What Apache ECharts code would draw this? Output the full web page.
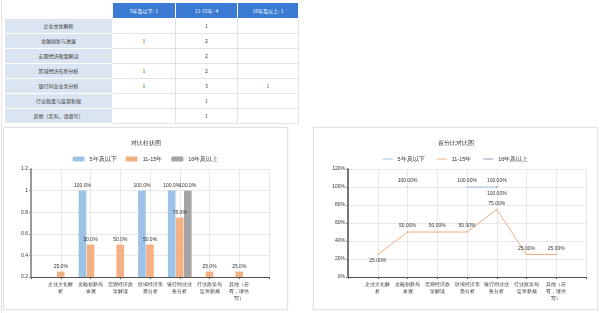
<!DOCTYPE html>
<html><head><meta charset="utf-8">
<script src="https://cdn.jsdelivr.net/npm/echarts@6/dist/echarts.min.js"></script>
<style>
html,body{margin:0;padding:0;background:#fff;width:600px;height:313px;overflow:hidden;font-family:"Noto Sans CJK SC","Microsoft YaHei",sans-serif;}
#leftline{position:absolute;left:1px;top:0;width:1px;height:313px;background:#e4e4e4;}
#tbl{position:absolute;left:4px;top:2px;border-collapse:collapse;table-layout:fixed;}
#tbl td{border:1px solid #dfe3ea;font-size:5px;text-align:center;color:#333333;padding:0;height:14px;line-height:14px;white-space:nowrap;overflow:hidden;}
#tbl tr.h td{height:15px;}
#tbl td.hd{background:#3b7bd4;color:#fff;border-color:#fff;}
#tbl td.hd0{background:#fff;border-color:#fff;}
#tbl td.rc{background:#dbe5f1;border-color:#fff;}
.panel{position:absolute;top:127px;width:283px;height:181px;border:1px solid #e2e2e2;box-shadow:0 0 2px rgba(0,0,0,0.08);}
</style></head>
<body>
<div id="leftline"></div>
<table id="tbl"></table>
<div id="bar" class="panel" style="left:3px;"></div>
<div id="line" class="panel" style="left:313px;"></div>
<script>
// ---- data ----
var categories = ['企业文化解析','金融创新与发展','宏观经济政策解读','区域经济形势分析','银行同业业务分析','行业政策与监管新规','其他（若有，请填写）'];
var chartLabels = ['企业文化解\n析','金融创新与\n发展','宏观经济政\n策解读','区域经济形\n势分析','银行同业业\n务分析','行业政策与\n监管新规','其他（若\n有，请填\n写）'];
var groups = ['5年及以下','11-15年','16年及以上'];
var groupCounts = [1, 4, 1];
var countsLow = [null, 1, null, 1, 1, null, null];
var countsMid = [1, 2, 2, 2, 3, 1, 1];
var countsHigh = [null, null, null, null, 1, null, null];
var pctLow = [null, 1, null, 1, 1, null, null];
var pctMid = [0.25, 0.5, 0.5, 0.5, 0.75, 0.25, 0.25];
var pctHigh = [null, null, null, null, 1, null, null];
var barTicks = [0.2, 0.4, 0.6, 0.8, 1, 1.2];
var lineTicks = [0, 0.2, 0.4, 0.6, 0.8, 1, 1.2];

// ---- table ----
(function(){
  var t = document.getElementById('tbl');
  var widths = [108, 63, 62, 61];
  var html = '<colgroup>' + widths.map(function(w){return '<col style="width:'+w+'px">';}).join('') + '</colgroup>';
  html += '<tr class="h"><td class="hd0"></td>' + groups.map(function(g,i){return '<td class="hd">'+g+'- '+groupCounts[i]+'</td>';}).join('') + '</tr>';
  var cols = [countsLow, countsMid, countsHigh];
  categories.forEach(function(c, r){
    html += '<tr><td class="rc">'+c+'</td>' + cols.map(function(a){return '<td>'+(a[r]==null?'':a[r])+'</td>';}).join('') + '</tr>';
  });
  t.innerHTML = html;
})();

function pad(a){ return [null].concat(a).concat([null]); }
var padCats = [''].concat(chartLabels).concat(['']);
var FS = 5.5;
var AFS = 5;
var txt = '#333';

// ---- bar chart ----
var barColors = ['#9dc3e6', '#f4b183', '#a5a5a5'];
var bar = echarts.init(document.getElementById('bar'));
function barLabel(){ return {show:true, position:'top', fontSize:AFS, color:txt, distance:2, formatter:function(p){return p.value==null?'':(p.value*100).toFixed(1)+'%';}}; }
bar.setOption({
  animation:false,
  title:{text:'对比柱状图', left:'center', top:7, textStyle:{fontSize:FS, fontWeight:'normal', color:txt}},
  legend:{top:23, left:'center', itemWidth:12, itemHeight:5, itemGap:9, textStyle:{fontSize:FS, color:txt}, data:groups},
  grid:{left:27, right:18, top:41, bottom:32},
  xAxis:{type:'category', data:padCats, boundaryGap:false,
    axisLine:{lineStyle:{color:'#555', width:1}}, axisTick:{show:true, length:2, lineStyle:{color:'#555'}},
    axisLabel:{fontSize:AFS, color:txt, interval:0, lineHeight:7, margin:4},
    splitLine:{show:true, lineStyle:{color:'#e9e9e9'}}},
  yAxis:{type:'value', min:barTicks[0], max:barTicks[barTicks.length-1], interval:0.2,
    axisLine:{show:true, lineStyle:{color:'#999', width:2}}, axisTick:{show:true, length:2, lineStyle:{color:'#999'}},
    axisLabel:{fontSize:AFS, color:txt, margin:3},
    splitLine:{show:true, lineStyle:{color:'#e9e9e9'}}},
  series:[
    {name:groups[0], type:'bar', data:pad(pctLow), barWidth:7.6, barGap:'6%', itemStyle:{color:barColors[0]}, label:barLabel()},
    {name:groups[1], type:'bar', data:pad(pctMid), barWidth:7.6, barGap:'6%', itemStyle:{color:barColors[1]}, label:barLabel()},
    {name:groups[2], type:'bar', data:pad(pctHigh), barWidth:7.6, barGap:'6%', itemStyle:{color:barColors[2]}, label:barLabel()}
  ]
});

// ---- line chart ----
var lineColors = ['#9cc1e4', '#eaaf86', '#8a9bb3'];
var line = echarts.init(document.getElementById('line'));
function fmt2(p){ return p.value==null?'':(p.value*100).toFixed(2)+'%'; }
function withPos(arr, posArr){ return pad(arr).map(function(v,i){ return v==null?null:{value:v, label:{position:posArr[i]||'top'}}; }); }
var midPos = [null,'bottom','top','top','top','top','top','top',null];
line.setOption({
  animation:false,
  title:{text:'百分比对比图', left:'center', top:7, textStyle:{fontSize:FS, fontWeight:'normal', color:txt}},
  legend:{top:23, left:'center', itemWidth:10, itemHeight:5, itemGap:12, textStyle:{fontSize:FS, color:txt}, data:groups.map(function(g){return {name:g, icon:'path://M0,2 L10,2 L10,3 L0,3 Z'};})},
  grid:{left:34, right:11, top:41, bottom:32},
  xAxis:{type:'category', data:padCats, boundaryGap:false,
    axisLine:{lineStyle:{color:'#555', width:1}}, axisTick:{show:true, length:2, lineStyle:{color:'#555'}},
    axisLabel:{fontSize:AFS, color:txt, interval:0, lineHeight:7, margin:4},
    splitLine:{show:true, lineStyle:{color:'#e9e9e9'}}},
  yAxis:{type:'value', min:lineTicks[0], max:lineTicks[lineTicks.length-1], interval:0.2,
    axisLine:{show:true, lineStyle:{color:'#777', width:2}}, axisTick:{show:true, length:2, lineStyle:{color:'#777'}},
    axisLabel:{fontSize:AFS, color:txt, margin:3, formatter:function(v){return Math.round(v*100)+'%';}},
    splitLine:{show:true, lineStyle:{color:'#e9e9e9'}}},
  series:[
    {name:groups[0], type:'line', data:pad(pctLow), symbol:'circle', symbolSize:1.5, connectNulls:false, itemStyle:{color:lineColors[0]}, lineStyle:{width:1},
      label:{show:true, position:'top', fontSize:AFS, color:txt, distance:3, formatter:fmt2}},
    {name:groups[1], type:'line', data:withPos(pctMid, midPos), symbol:'circle', symbolSize:1.5, itemStyle:{color:lineColors[1]}, lineStyle:{width:1},
      label:{show:true, position:'top', fontSize:AFS, color:txt, distance:3, formatter:fmt2}},
    {name:groups[2], type:'line', data:pad(pctHigh), symbol:'circle', symbolSize:1.5, itemStyle:{color:lineColors[2]}, lineStyle:{width:1},
      label:{show:true, position:'bottom', fontSize:AFS, color:txt, distance:3, formatter:fmt2}}
  ]
});
</script>
</body></html>
